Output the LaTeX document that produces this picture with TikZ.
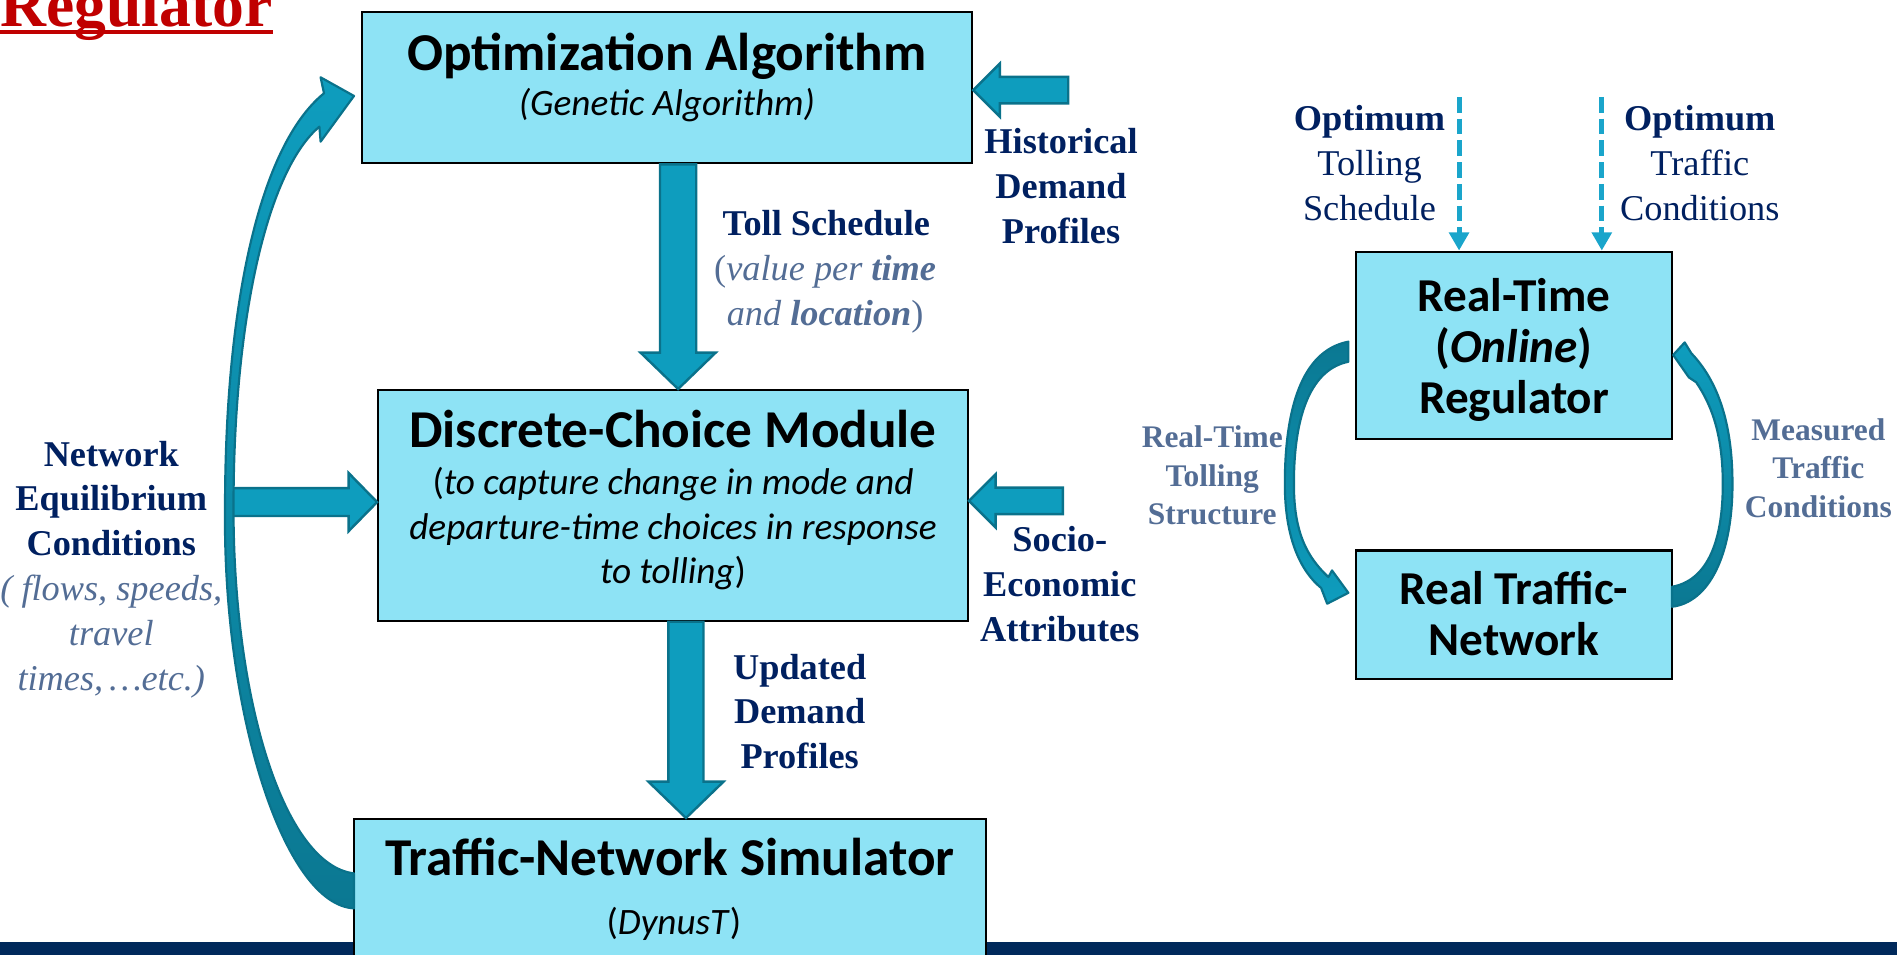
\documentclass[tikz,border=0pt]{standalone}
\usepackage{fontspec}
\setmainfont{Liberation Serif}
\newfontfamily\boxfont{Carlito}
\usetikzlibrary{arrows.meta,calc}

\definecolor{boxfill}{HTML}{8EE3F5}
\definecolor{arrowfill}{HTML}{0E9DBE}
\definecolor{arrowdark}{HTML}{0B7892}
\definecolor{arrowedge}{HTML}{0A728B}
\definecolor{navy}{HTML}{002060}
\definecolor{slate}{HTML}{536D95}
\definecolor{titlered}{HTML}{C00000}
\definecolor{barblue}{HTML}{00295B}
\definecolor{dashblue}{HTML}{1AA5CB}

\tikzset{
  box/.style={draw=black, line width=0.9pt, fill=boxfill, inner sep=0pt},
  boxtitle/.style={font=\boxfont\bfseries\fontsize{22}{26}\selectfont, inner sep=0pt},
  boxnote/.style={font=\boxfont\fontsize{15.4}{18.5}\selectfont, align=center, inner sep=0pt},
  rtitle/.style={font=\boxfont\bfseries\fontsize{19.5}{21}\selectfont, align=center, inner sep=0pt},
  lbl/.style={text=navy, font=\bfseries\fontsize{15}{18.5}\selectfont, align=center, inner sep=0pt},
  lblreg/.style={text=navy, font=\fontsize{15}{18.5}\selectfont, align=center, inner sep=0pt},
  note/.style={text=slate, font=\itshape\fontsize{15}{18.5}\selectfont, align=center, inner sep=0pt},
  loopnote/.style={text=slate, font=\bfseries\fontsize{13}{15.8}\selectfont, align=center, inner sep=0pt},
  blockarrow/.style={fill=arrowfill, draw=arrowedge, line width=1pt, line join=miter},
  curvearrow/.style={draw=arrowedge, line width=0.9pt, line join=round},
  dasharrow/.style={draw=dashblue, line width=2.1pt, dash pattern=on 6.5pt off 2.5pt,
    -{Triangle[width=8pt,length=7.5pt]}},
}

% straight block arrow: #1 tail, #2 tip, #3 half shaft width, #4 half head width, #5 head length (pt)
\newcommand\blockarrow[5]{%
  \path[blockarrow] let \p1=#1, \p2=#2,
      \n1={((\x2)-(\x1))/veclen((\x2)-(\x1),(\y2)-(\y1))},
      \n2={((\y2)-(\y1))/veclen((\x2)-(\x1),(\y2)-(\y1))} in
    ({(\x1)-#3*(\n2)},{(\y1)+#3*(\n1)})
    -- ({(\x2)-#5*(\n1)-#3*(\n2)},{(\y2)-#5*(\n2)+#3*(\n1)})
    -- ({(\x2)-#5*(\n1)-#4*(\n2)},{(\y2)-#5*(\n2)+#4*(\n1)})
    -- (\x2,\y2)
    -- ({(\x2)-#5*(\n1)+#4*(\n2)},{(\y2)-#5*(\n2)-#4*(\n1)})
    -- ({(\x2)-#5*(\n1)+#3*(\n2)},{(\y2)-#5*(\n2)-#3*(\n1)})
    -- ({(\x1)+#3*(\n2)},{(\y1)-#3*(\n1)}) -- cycle;}

\begin{document}
\begin{tikzpicture}[x=0.5pt, y=-0.5pt]
\useasboundingbox (0,0) rectangle (1568,789);

% footer band
\fill[barblue] (0,779) rectangle (1568,795);

% heading
\node[anchor=base west, inner sep=0pt, text=titlered,
      font=\bfseries\fontsize{26.3}{30}\selectfont] (heading) at (0,21.5) {Regulator};
\draw[titlered, line width=1.6pt] ([yshift=-2.3pt]heading.base west) -- ([yshift=-2.3pt]heading.base east);

% model chain
\node[box, minimum width=252.25pt, minimum height=62.7pt] (oa) at (551.25,72.3) {};
\node[box, minimum width=243.7pt, minimum height=95.3pt] (dcm) at (556.3,417.7) {};
\node[box, minimum width=261.45pt, minimum height=63pt] (tns) at (553.75,740) {};

\node[boxtitle, anchor=base] (oat) at (551.25,58) {Optimization Algorithm};
\node[boxnote, anchor=base] (oan) at (551.25,95.5) {\itshape (Genetic Algorithm)};
\node[boxtitle, anchor=base] (dcmt) at (556.3,370) {Discrete-Choice Module};
\node[boxnote] (dcmn) at (556.3,437) {(\textit{to capture change in mode and}\\
  \textit{departure-time choices in response}\\ \textit{to tolling})};
\node[boxtitle, anchor=base] (tnst) at (553.75,724) {Traffic-Network Simulator};
\node[boxnote, anchor=base] (tnsn) at (557,772) {(\textit{DynusT})};

% real-time loop
\node[box, minimum width=130.5pt, minimum height=77.5pt] (rtr) at (1251.5,285.5) {};
\node[box, minimum width=130.5pt, minimum height=53.25pt] (rtn) at (1251.5,508.25) {};
\node[rtitle] (rtrt) at (1251.5,289) {Real-Time\\(\textit{Online})\\Regulator};
\node[rtitle] (rtnt) at (1251.5,507) {Real Traffic-\\Network};

% labels
\node[lbl] (hist) at (877,154) {Historical\\Demand\\Profiles};
\node[lbl] (socio) at (876,483) {Socio-\\Economic\\Attributes};
\node[lbl] (neq) at (92,412) {Network\\Equilibrium\\Conditions};
\node[note] (neqn) at (92,526) {( flows, speeds,\\travel\\times,\,…etc.)};
\node[lbl] (upd) at (661,588) {Updated\\Demand\\Profiles};
\node[lbl, anchor=base] (toll) at (683,195) {Toll Schedule};
\node[note] (tolln) at (682,243) {{\upshape(}value per \textbf{time}\\and \textbf{location}{\upshape)}};
\node[lblreg] (optl) at (1132,135) {\textbf{Optimum}\\Tolling\\Schedule};
\node[lblreg] (optr) at (1405,135) {\textbf{Optimum}\\Traffic\\Conditions};
\node[loopnote] (rtl) at (1002,393) {Real-Time\\Tolling\\Structure};
\node[loopnote] (meas) at (1503,387) {Measured\\Traffic\\Conditions};

% anchor points for the straight arrows
\coordinate (tollx) at (560.5,0);
\coordinate (updx) at (567,0);
\coordinate (neqs) at (190,415);
\coordinate (hists) at (883,74.5);
\coordinate (socios) at (878.5,414);
\coordinate (dl) at (1206,80);
\coordinate (dr) at (1324,80);

\blockarrow{(oa.south -| tollx)}{(dcm.north -| tollx)}{7.5}{15.5}{15}
\blockarrow{(dcm.south -| updx)}{(tns.north -| updx)}{7.25}{15.5}{15}
\blockarrow{(neqs)}{(dcm.west |- neqs)}{5.75}{12}{11.75}
\blockarrow{(hists)}{(oa.east |- hists)}{5.5}{11}{11}
\blockarrow{(socios)}{(dcm.east |- socios)}{5.5}{11}{11}

% optimum inputs
\draw[dasharrow] (dl) -- (rtr.north -| dl);
\draw[dasharrow] (dr) -- (rtr.north -| dr);

% feedback from the simulator to the optimiser
\path[curvearrow, top color=arrowfill, bottom color=arrowdark]
  (292.6,750.8) .. controls (235,748) and (184,590) .. (186,420)
  .. controls (186,250) and (215,120) .. (267.8,77.1)
  -- (265,63.9) -- (292.6,79.3) -- (265,117.1) -- (264,104.7)
  .. controls (222,140) and (193,260) .. (193,420)
  .. controls (193,580) and (235,715) .. (292.6,721.9)
  -- cycle;

% regulator to network
\path[curvearrow, top color=arrowdark, bottom color=arrowfill]
  (1114.5,282.4) .. controls (1075,290) and (1062,340) .. (1062,400)
  .. controls (1062,445) and (1075,472) .. (1092,486)
  -- (1097,499) -- (1114.5,490) -- (1101,471.5) -- (1098,477)
  .. controls (1080,460) and (1069.5,440) .. (1069.5,400)
  .. controls (1069.5,340) and (1085,305) .. (1114.5,299)
  -- cycle;

% network measurements back to the regulator
\path[curvearrow, top color=arrowfill, bottom color=arrowdark]
  (1382,485) .. controls (1410,480) and (1424,450) .. (1424,400)
  .. controls (1424,360) and (1415,335) .. (1402,316)
  -- (1396,312) -- (1383,293.4) -- (1392.5,283) -- (1398,292)
  .. controls (1420,315) and (1432,350) .. (1432,400)
  .. controls (1432,460) and (1412,498) .. (1382,501.5)
  -- cycle;
\end{tikzpicture}
\end{document}
